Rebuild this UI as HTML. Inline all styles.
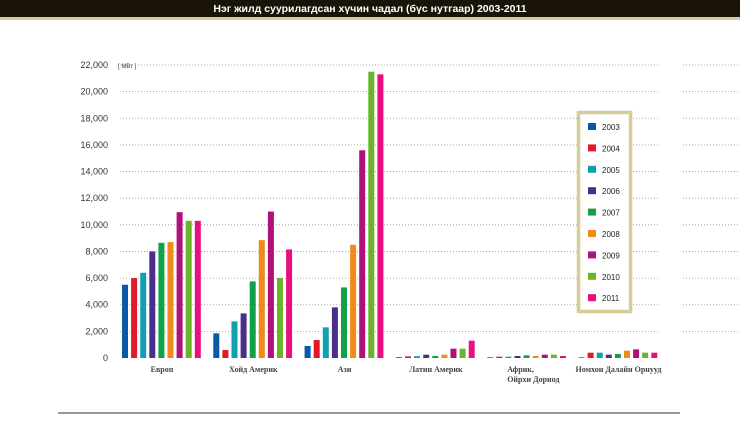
<!DOCTYPE html>
<html><head><meta charset="utf-8"><style>
body{margin:0;background:#fff;width:740px;height:416px;overflow:hidden;font-family:"Liberation Sans",sans-serif}
</style></head><body>
<svg width="740" height="416">
<rect x="0" y="0" width="740" height="17" fill="#1a1408"/>
<rect x="0" y="17" width="740" height="3" fill="#d8c9a0"/>
<text x="370" y="12" fill="#fff" font-size="10.5" font-weight="bold" text-anchor="middle">Нэг жилд суурилагдсан хүчин чадал (бүс нутгаар) 2003-2011</text>
<text x="118" y="68" font-size="6" fill="#333">[ МВт ]</text>
<g id="grid"></g><g id="bars"></g><g id="labels"></g>
<rect x="578.5" y="112.5" width="52" height="199" fill="#fff" stroke="#d6cc98" stroke-width="3.5"/>
<g id="legend"></g>
<line x1="58" y1="413" x2="680" y2="413" stroke="#777" stroke-width="1.5"/>
</svg>
<script>
const years=["2003","2004","2005","2006","2007","2008","2009","2010","2011"];
const colors=["#0a58a8","#e01a2a","#12a0b0","#4a2f8a","#12a048","#f08a1a","#b0107a","#6ab42a","#e8107e"];
const regions=["Европ","Хойд Америк","Ази","Латин Америк","Африк,|Ойрхи Дорнод","Номхон Далайн Орнууд"];
const europe=[5500,6000,6400,8000,8650,8700,10950,10300,10300];
const northAmerica=[1850,600,2750,3350,5750,8850,11000,6000,8150];
const asia=[900,1350,2300,3800,5300,8500,15600,21500,21300];
const latinAmerica=[60,120,140,250,150,250,700,700,1300];
const africaMiddleEast=[50,100,100,150,200,150,250,250,150];
const pacific=[50,400,400,250,300,550,650,400,400];
const ticks=[0,2000,4000,6000,8000,10000,12000,14000,16000,18000,20000,22000];
const series=[europe,northAmerica,asia,latinAmerica,africaMiddleEast,pacific];
const NS="http://www.w3.org/2000/svg";
const y=v=>358-v*293/22000;
const gx=i=>122+i*91.3;
function mk(t,a,p){const e=document.createElementNS(NS,t);for(const k in a)e.setAttribute(k,a[k]);document.getElementById(p).appendChild(e);return e;}
ticks.forEach(t=>{
  if(t>0){const l=mk("line",{x1:120,x2:658,y1:y(t),y2:y(t),stroke:"#999","stroke-width":0.8,"stroke-dasharray":"1 2"},"grid");
  
  
  const l2=mk("line",{x1:683,x2:740,y1:y(t),y2:y(t),stroke:"#999","stroke-width":0.8,"stroke-dasharray":"1 2"},"grid");
  
  }
  const tx=mk("text",{x:108,y:y(t)+3,"font-size":9,fill:"#333","text-anchor":"end"},"grid");
  tx.textContent=t.toLocaleString("en-US");
  
  
});
series.forEach((s,gi)=>{
  s.forEach((v,i)=>{
    const r=mk("rect",{x:gx(gi)+i*9.1,y:y(v),width:6,height:358-y(v),fill:colors[i]},"bars");
    
    
  });
  const parts=regions[gi].split("|");
  parts.forEach((p,k)=>{
    const t=mk("text",{x:gx(gi)+(parts.length>1?20:40),y:372+k*10,"font-size":8,"font-weight":"bold",fill:"#444","font-family":"Liberation Serif,serif","text-anchor":parts.length>1?"start":"middle"},"labels");
    t.textContent=p;
    
    
  });
});
years.forEach((yr,i)=>{
  const cy=127+i*21.4;
  const r=mk("rect",{x:588,y:cy-4,width:8,height:7,fill:colors[i]},"legend");
  
  
  const t=mk("text",{x:602,y:cy+3,"font-size":8,fill:"#222"},"legend");
  t.textContent=yr;
  
  
});
</script>
</body></html>
